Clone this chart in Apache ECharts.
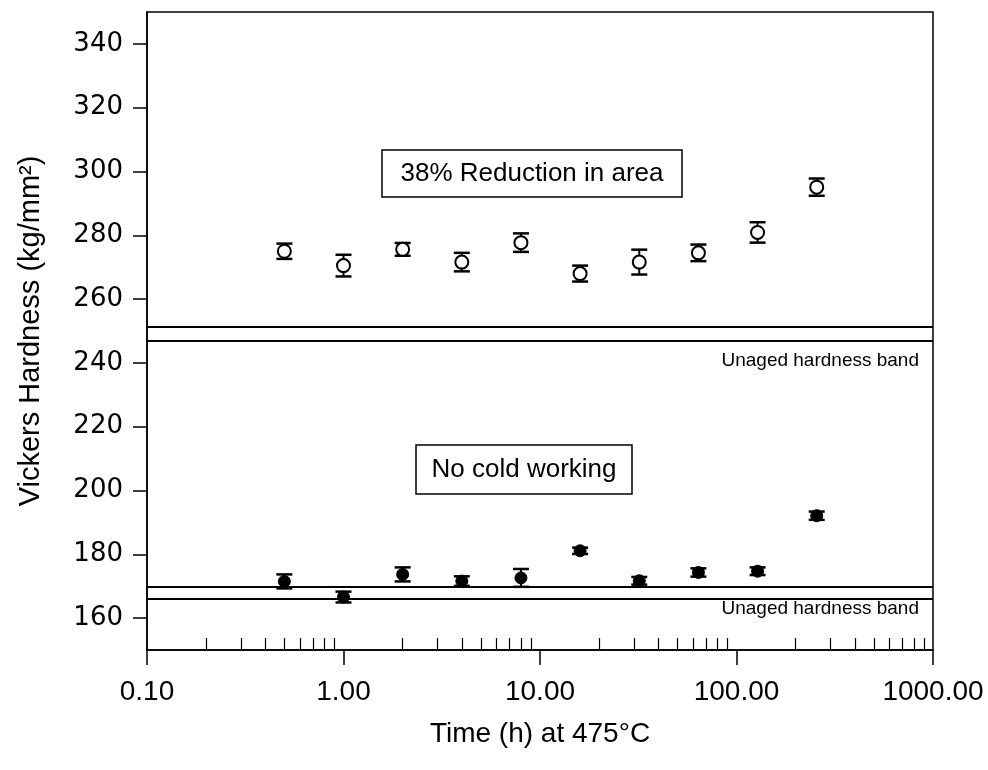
<!DOCTYPE html>
<html><head><meta charset="utf-8">
<script src="https://cdn.jsdelivr.net/npm/echarts@6/dist/echarts.min.js"></script>
<style>html,body{margin:0;padding:0;background:#fff}#c{width:988px;height:770px}</style>
</head><body><div id="c"></div>
<script>
// ---- data ----
const times = [0.5, 1, 2, 4, 8, 16, 32, 64, 128, 256];
const coldWorkedMean = [275.0, 270.5, 275.6, 271.6, 277.7, 268.0, 271.6, 274.5, 280.9, 295.1];
const coldWorkedErr  = [2.4, 3.4, 2.0, 2.9, 2.9, 2.5, 3.9, 2.6, 3.2, 2.7];
const noColdMean     = [171.5, 166.6, 173.7, 171.6, 172.6, 181.1, 171.7, 174.3, 174.7, 192.1];
const noColdErr      = [2.2, 1.7, 2.2, 1.5, 2.8, 1.0, 1.2, 1.3, 1.2, 1.3];
const upperBand = [246.8, 251.3];
const lowerBand = [166.2, 169.9];
const yTickLabels = [160, 180, 200, 220, 240, 260, 280, 300, 320, 340];
const xMin = 0.1, xMax = 1000;
const minorTickFactors = [2, 3, 4, 5, 6, 7, 8, 9];
const decades = [0.1, 1, 10, 100];

const FONT = '"Liberation Sans", Arial, Helvetica, sans-serif';
const minorTicks = [];
decades.forEach(d => minorTickFactors.forEach(f => minorTicks.push(Math.log10(d * f))));

const chart = echarts.init(document.getElementById('c'), null, {renderer: 'canvas'});

function errSeries(mean, err, name) {
  return {
    type: 'custom', name: name + ' err', xAxisIndex: 0, yAxisIndex: 0, z: 3, silent: true,
    data: times.map((t, i) => [t, mean[i] - err[i], mean[i] + err[i]]),
    renderItem: (params, api) => {
      const lo = api.coord([api.value(0), api.value(1)]);
      const hi = api.coord([api.value(0), api.value(2)]);
      const w = 8;
      return {type: 'group', children: [
        {type: 'line', shape: {x1: lo[0], y1: lo[1], x2: hi[0], y2: hi[1]}, style: {stroke: '#000', lineWidth: 2}},
        {type: 'line', shape: {x1: lo[0] - w, y1: lo[1], x2: lo[0] + w, y2: lo[1]}, style: {stroke: '#000', lineWidth: 2.5}},
        {type: 'line', shape: {x1: hi[0] - w, y1: hi[1], x2: hi[0] + w, y2: hi[1]}, style: {stroke: '#000', lineWidth: 2.5}}
      ]};
    }
  };
}

const bandLines = upperBand.concat(lowerBand).map(v => ({yAxis: v}));

chart.setOption({
  animation: false,
  backgroundColor: '#fff',
  grid: {left: 147, right: 55, top: 12, bottom: 120, show: true, borderColor: '#000', borderWidth: 1.5, containLabel: false},
  xAxis: [{
    type: 'log', logBase: 10, min: xMin, max: xMax, position: 'bottom',
    axisLine: {show: true, onZero: false, lineStyle: {color: '#000', width: 1.5}},
    axisTick: {show: true, inside: false, length: 15, lineStyle: {color: '#000', width: 1.5}},
    axisLabel: {show: true, margin: 28, fontSize: 28, fontFamily: FONT, color: '#000',
      showMinLabel: true, showMaxLabel: true, formatter: v => Number(v).toFixed(2)},
    minorTick: {show: false}, splitLine: {show: false},
    name: 'Time (h) at 475°C', nameLocation: 'middle', nameGap: 70,
    nameTextStyle: {fontSize: 28, fontFamily: FONT, color: '#000'}
  }, {
    type: 'value', min: Math.log10(xMin), max: Math.log10(xMax), position: 'bottom',
    axisLine: {show: false, onZero: false},
    axisTick: {show: true, inside: true, length: 12, customValues: minorTicks, lineStyle: {color: '#000', width: 1.2}},
    axisLabel: {show: false}, splitLine: {show: false}
  }],
  yAxis: [{
    type: 'value', min: 150, max: 350, position: 'left',
    axisLine: {show: true, onZero: false, lineStyle: {color: '#000', width: 1.5}},
    axisTick: {show: true, inside: false, length: 14, customValues: yTickLabels, lineStyle: {color: '#000', width: 1.5}},
    axisLabel: {customValues: yTickLabels, margin: 24, fontSize: 26, fontFamily: '"DejaVu Sans", sans-serif', color: '#000'},
    splitLine: {show: false},
    name: 'Vickers Hardness (kg/mm²)', nameLocation: 'middle', nameGap: 102, nameRotate: 90,
    nameTextStyle: {fontSize: 29, fontFamily: FONT, color: '#000'}
  }],
  series: [
    errSeries(coldWorkedMean, coldWorkedErr, '38% Reduction in area'),
    errSeries(noColdMean, noColdErr, 'No cold working'),
    {
      type: 'scatter', name: '38% Reduction in area', xAxisIndex: 0, yAxisIndex: 0, z: 4,
      data: times.map((t, i) => [t, coldWorkedMean[i]]),
      symbol: 'circle', symbolSize: 13,
      itemStyle: {color: '#fff', borderColor: '#000', borderWidth: 2, opacity: 1},
      markLine: {silent: true, symbol: 'none', label: {show: false},
        lineStyle: {color: '#000', width: 2, type: 'solid'}, data: bandLines}
    },
    {
      type: 'scatter', name: 'No cold working', xAxisIndex: 0, yAxisIndex: 0, z: 4,
      data: times.map((t, i) => [t, noColdMean[i]]),
      symbol: 'circle', symbolSize: 12,
      itemStyle: {color: '#000', borderColor: '#000', borderWidth: 1, opacity: 1}
    }
  ],
  graphic: [
    {type: 'rect', shape: {x: 382, y: 150, width: 300, height: 47}, style: {fill: '#fff', stroke: '#000', lineWidth: 1.5}, z: 10},
    {type: 'text', x: 532, y: 174, style: {text: '38% Reduction in area', font: '26px ' + FONT, fill: '#000', align: 'center', verticalAlign: 'middle'}, z: 11},
    {type: 'rect', shape: {x: 416, y: 445, width: 216, height: 49}, style: {fill: '#fff', stroke: '#000', lineWidth: 1.5}, z: 10},
    {type: 'text', x: 524, y: 470, style: {text: 'No cold working', font: '26px ' + FONT, fill: '#000', align: 'center', verticalAlign: 'middle'}, z: 11},
    {type: 'text', x: 919, y: 361, style: {text: 'Unaged hardness band', font: '19px ' + FONT, fill: '#000', align: 'right', verticalAlign: 'middle'}, z: 11},
    {type: 'text', x: 919, y: 609, style: {text: 'Unaged hardness band', font: '19px ' + FONT, fill: '#000', align: 'right', verticalAlign: 'middle'}, z: 11}
  ]
});
</script>
</body></html>
